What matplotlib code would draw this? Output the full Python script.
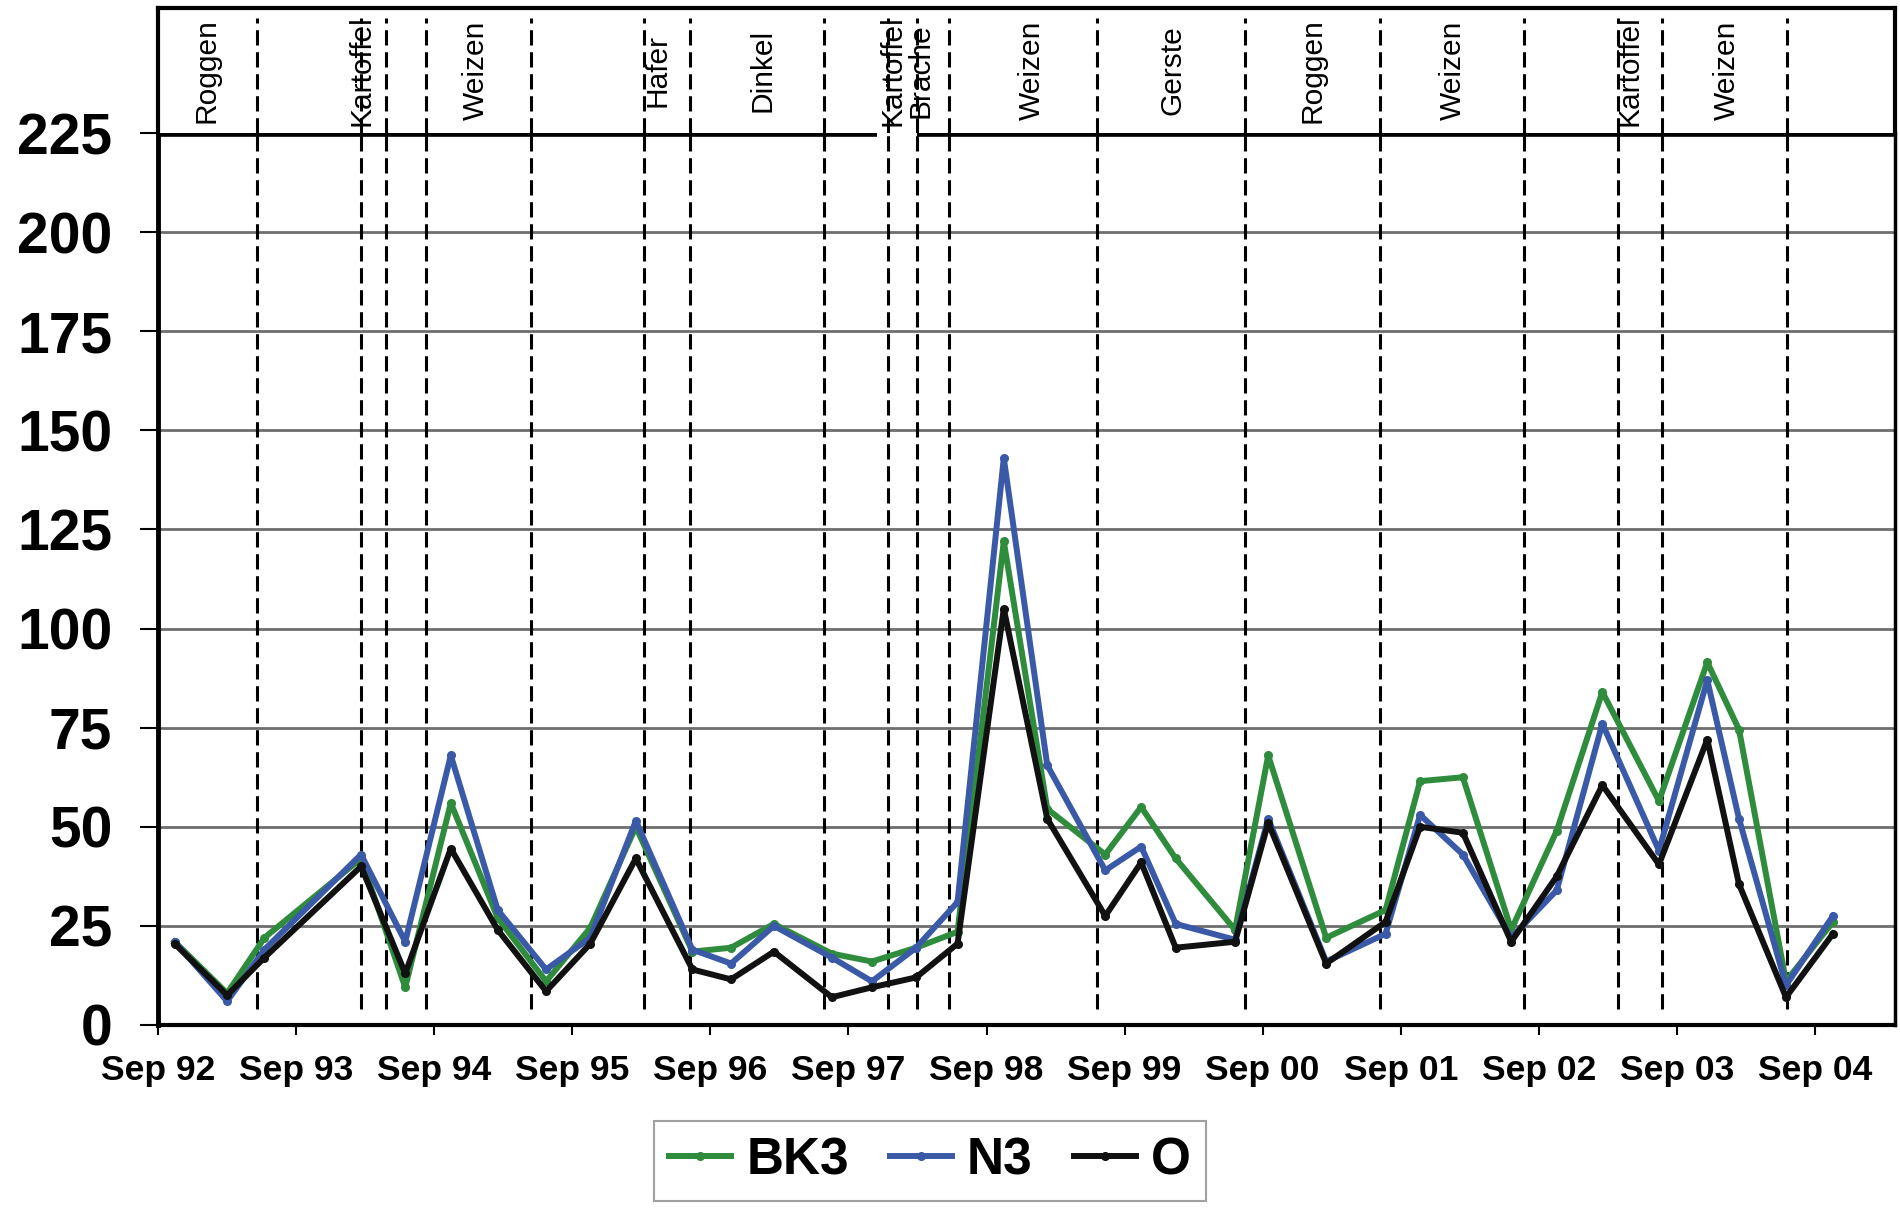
import matplotlib.pyplot as plt

# sampling times in years after Sep 1992
t = [0.12, 0.50, 0.77, 1.47, 1.79, 2.12, 2.46, 2.81, 3.13, 3.46, 3.87, 4.15,
     4.46, 4.88, 5.17, 5.49, 5.79, 6.125, 6.44, 6.86, 7.12, 7.37, 7.80, 8.04,
     8.46, 8.89, 9.14, 9.45, 9.80, 10.13, 10.46, 10.87, 11.22, 11.45, 11.79, 12.13]

bk3 = [21, 8, 22, 42, 9.5, 56, 27, 11, 24.5, 50, 18.5, 19.5,
       25.5, 18, 16, 19.5, 23.5, 122, 54.5, 43, 55, 42, 24, 68,
       22, 29, 61.5, 62.5, 24, 49, 84, 56.5, 91.5, 74.5, 11, 26]
n3 = [21, 6, 19, 43, 21, 68, 29, 14, 22, 51.5, 19, 15.5,
      25, 17, 11, 19.5, 31, 143, 65.5, 39, 45, 25.5, 21.5, 52,
      16, 23, 53, 43, 22, 34, 76, 44, 87, 52, 10, 27.5]
o = [20.5, 7.5, 17, 40, 13, 44.5, 24, 8.5, 20.5, 42, 14, 11.5,
     18.5, 7, 9.5, 12, 20.5, 105, 52, 27.5, 41, 19.5, 21, 51,
     15.5, 26, 50, 48.5, 21, 37.5, 60.5, 40.5, 72, 35.5, 7, 23]

year_labels = ['Sep 92', 'Sep 93', 'Sep 94', 'Sep 95', 'Sep 96', 'Sep 97', 'Sep 98',
               'Sep 99', 'Sep 00', 'Sep 01', 'Sep 02', 'Sep 03', 'Sep 04']

# crop change dates and the crops grown
bounds = [0.72, 1.47, 1.65, 1.94, 2.70, 3.52, 3.85, 4.82, 5.29, 5.50, 5.73,
          6.80, 7.87, 8.85, 9.89, 10.57, 10.89, 11.80]
crops = ['Roggen', 'Kartoffel', 'Weizen', 'Hafer', 'Dinkel', 'Kartoffel', 'Brache',
         'Weizen', 'Gerste', 'Roggen', 'Weizen', 'Kartoffel', 'Weizen']
crop_x = [0.35, 1.47, 2.30, 3.62, 4.38, 5.32, 5.52, 6.33, 7.35, 8.36, 9.38, 10.66, 11.36]

plt.rcParams['font.family'] = ['Liberation Sans', 'DejaVu Sans']

xmax = 12.58
fig = plt.figure(figsize=(19, 12.14), dpi=100)
ax = fig.add_axes([0.0832, 0.1557, 0.9142, 0.7347])
hd = fig.add_axes([0.0832, 0.8904, 0.9142, 0.1030])

for vals, col, name in [(bk3, '#2f8c3c', 'BK3'), (n3, '#3a5aa8', 'N3'), (o, '#111111', 'O')]:
    ax.plot(t, vals, color=col, lw=4.3, marker='o', ms=5.5, label=name, zorder=4)

ax.set_xlim(0, xmax)
ax.set_ylim(0, 225)
ax.set_yticks(range(0, 226, 25))
ax.set_xticks(range(13))
ax.set_xticklabels(year_labels)
ax.yaxis.grid(True, color='#6e6e6e', lw=2)
ax.set_axisbelow(True)
ax.tick_params(axis='y', length=13, width=1.5, pad=20, labelsize=41)
ax.tick_params(axis='x', length=7, width=1.5, pad=14, labelsize=25.5)
for lbl in ax.get_xticklabels() + ax.get_yticklabels():
    lbl.set_fontweight('bold')

ax.spines['top'].set_visible(False)
ax.spines['left'].set_linewidth(3.5)
ax.spines['bottom'].set_linewidth(3)
ax.spines['right'].set_linewidth(2.5)
ax.get_ygridlines()[-1].set_visible(False)
ax.hlines(225, 0, 5.21, color='k', lw=5.5, clip_on=False, zorder=6)
ax.hlines(225, 5.50, xmax, color='k', lw=5.5, clip_on=False, zorder=6)

dash = (0, (5, 2.2))
ax.vlines(bounds, 4, 225, colors='k', linestyles=dash, lw=2.2, zorder=3)

# header strip with the crop sequence
hd.set_xlim(0, xmax)
hd.set_ylim(0, 1)
hd.set_xticks([])
hd.set_yticks([])
hd.spines['bottom'].set_visible(False)
for s in ['top', 'left', 'right']:
    hd.spines[s].set_linewidth(3)
hd.vlines(bounds, 0, 0.92, colors='k', linestyles=dash, lw=2.2)
for name, x in zip(crops, crop_x):
    hd.text(x, 0.5, name, rotation=90, ha='center', va='center', fontsize=21.5)

leg = fig.legend(loc='upper center', bbox_to_anchor=(0.4895, 1 - 1121 / 1214), ncol=3,
                 prop={'size': 37, 'weight': 'bold'}, handlelength=1.2, handletextpad=0.3,
                 columnspacing=0.8, fancybox=False, edgecolor='#888888', borderpad=0.3,
                 borderaxespad=0)
leg.get_frame().set_linewidth(1.5)

fig.savefig('out.png', dpi=100)
